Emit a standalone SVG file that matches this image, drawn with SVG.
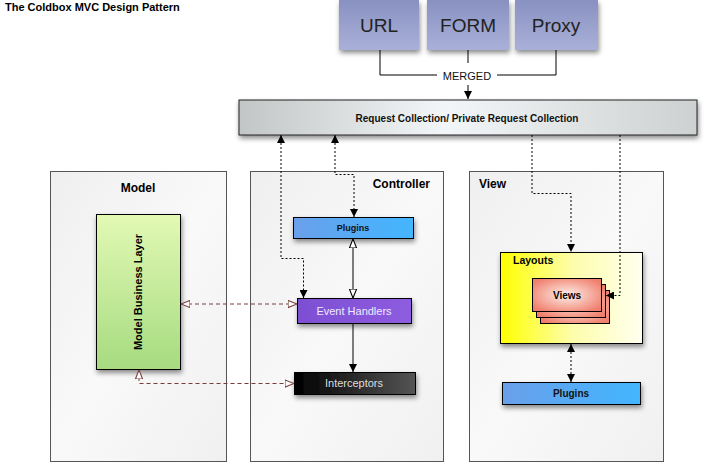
<svg xmlns="http://www.w3.org/2000/svg" width="707" height="467" viewBox="0 0 707 467">
<style>
text{font-family:"Liberation Sans",Arial,sans-serif}
.b{font-weight:bold}
.panel{fill:url(#gPanel);stroke:#555;stroke-width:1}
.top{fill:url(#gTop);filter:url(#sh)}
.toptxt{font-size:19px;fill:#222;text-anchor:middle}
.conn{fill:none;stroke:#000;stroke-width:1}
.dot{fill:none;stroke:#000;stroke-width:1;stroke-dasharray:2,2}
.dash{fill:none;stroke:#7a3a3a;stroke-width:1;stroke-dasharray:4,3}
.box{stroke:#000;stroke-width:1;filter:url(#sh)}
</style>
<defs>
<filter id="sh" x="-20%" y="-20%" width="140%" height="160%">
<feDropShadow dx="1" dy="3" stdDeviation="2.5" flood-color="#000" flood-opacity="0.45"/>
</filter>
<linearGradient id="gTop" x1="0" y1="0" x2="0" y2="1">
<stop offset="0" stop-color="#8991c2"/><stop offset="1" stop-color="#a9b0d8"/>
</linearGradient>
<linearGradient id="gPanel" x1="0" y1="0" x2="1" y2="1">
<stop offset="0" stop-color="#efefef"/><stop offset="0.5" stop-color="#f9f9f9"/><stop offset="1" stop-color="#f0f0f0"/>
</linearGradient>
<linearGradient id="gReq" x1="0" y1="0" x2="1" y2="0">
<stop offset="0" stop-color="#c2c6c6"/><stop offset="0.45" stop-color="#f2f6f8"/><stop offset="1" stop-color="#cdd1d1"/>
</linearGradient>
<linearGradient id="gGreen" x1="0" y1="0" x2="0" y2="1">
<stop offset="0" stop-color="#e2f9b4"/><stop offset="1" stop-color="#a6db80"/>
</linearGradient>
<linearGradient id="gBlue" x1="0" y1="0" x2="1" y2="0">
<stop offset="0" stop-color="#6a9fea"/><stop offset="1" stop-color="#42b6ff"/>
</linearGradient>
<linearGradient id="gPurple" x1="0" y1="0" x2="1" y2="0">
<stop offset="0" stop-color="#7d4fd2"/><stop offset="1" stop-color="#8e5ce0"/>
</linearGradient>
<linearGradient id="gBlack" x1="0" y1="0" x2="1" y2="0">
<stop offset="0" stop-color="#000"/><stop offset="1" stop-color="#555"/>
</linearGradient>
<linearGradient id="gYellow" x1="0" y1="0" x2="1" y2="0">
<stop offset="0" stop-color="#ffff00"/><stop offset="0.5" stop-color="#fdfdaa"/><stop offset="1" stop-color="#fffff0"/>
</linearGradient>
<radialGradient id="gPink" cx="0.5" cy="0.5" r="0.6">
<stop offset="0" stop-color="#fdf0ea"/><stop offset="1" stop-color="#f0806e"/>
</radialGradient>
<marker id="aF" viewBox="0 0 10 10" refX="10" refY="5" markerWidth="8" markerHeight="8" markerUnits="userSpaceOnUse" orient="auto-start-reverse">
<path d="M0,0 L10,5 L0,10 z" fill="#000"/>
</marker>
<marker id="aH" viewBox="0 0 10 10" refX="10" refY="5" markerWidth="9" markerHeight="9" markerUnits="userSpaceOnUse" orient="auto-start-reverse">
<path d="M0,1 L10,5 L0,9 z" fill="#fff" stroke="#000" stroke-width="1.2"/>
</marker>
<marker id="aB" viewBox="0 0 10 10" refX="10" refY="5" markerWidth="9" markerHeight="9" markerUnits="userSpaceOnUse" orient="auto-start-reverse">
<path d="M0,1 L10,5 L0,9 z" fill="#fff" stroke="#7a3a3a" stroke-width="1.2"/>
</marker>
</defs>

<text x="5" y="11" class="b" font-size="11" fill="#000">The Coldbox MVC Design Pattern</text>

<g id="url"><rect class="top" x="339" y="0" width="80" height="50"/><text class="toptxt" x="379" y="32">URL</text></g>
<g id="form"><rect class="top" x="427" y="0" width="82" height="50"/><text class="toptxt" x="468" y="32">FORM</text></g>
<g id="proxy"><rect class="top" x="515" y="0" width="83" height="50"/><text class="toptxt" x="556" y="32">Proxy</text></g>

<g id="request"><rect x="239" y="100" width="458" height="35" fill="url(#gReq)" stroke="#222" stroke-width="1" filter="url(#sh)"/>
<text x="467" y="122" class="b" font-size="10" fill="#111" text-anchor="middle">Request Collection/ Private Request Collection</text></g>

<g id="model"><rect class="panel" x="50.5" y="171.5" width="176" height="290"/>
<text x="138" y="192" class="b" font-size="12" text-anchor="middle">Model</text></g>
<g id="controller"><rect class="panel" x="250.5" y="171.5" width="193" height="290"/>
<text x="430" y="188" class="b" font-size="12" text-anchor="end">Controller</text></g>
<g id="view"><rect class="panel" x="469.5" y="171.5" width="194" height="290"/>
<text x="479" y="188" class="b" font-size="12">View</text></g>

<g id="mbl"><rect class="box" x="96.5" y="214.5" width="84" height="155" fill="url(#gGreen)"/>
<text transform="translate(142,292) rotate(-90)" class="b" font-size="11" text-anchor="middle">Model Business Layer</text></g>

<g id="cplugins"><rect class="box" x="293.5" y="217.5" width="120" height="21" fill="url(#gBlue)"/>
<text x="353" y="231" class="b" font-size="9" text-anchor="middle" fill="#111">Plugins</text></g>
<g id="eventhandlers"><rect class="box" x="297.5" y="298.5" width="114" height="25" fill="url(#gPurple)"/>
<text x="354" y="315" font-size="11" text-anchor="middle" fill="#f0eaff">Event Handlers</text></g>
<g id="interceptors"><rect class="box" x="294.5" y="372.5" width="121" height="22" fill="url(#gBlack)"/>
<text x="354" y="387" font-size="11" text-anchor="middle" fill="#ddd">Interceptors</text></g>

<g id="layouts"><rect class="box" x="500.5" y="252.5" width="142" height="91" fill="url(#gYellow)"/>
<text x="513" y="264" class="b" font-size="10.5">Layouts</text></g>
<g id="views">
<rect x="540.5" y="290.5" width="69" height="33" fill="url(#gPink)" stroke="#000"/>
<rect x="536.5" y="284.5" width="69" height="33" fill="url(#gPink)" stroke="#000"/>
<rect x="532.5" y="278.5" width="69" height="33" fill="url(#gPink)" stroke="#000"/>
<text x="567" y="299" class="b" font-size="10" text-anchor="middle">Views</text></g>
<g id="vplugins"><rect class="box" x="502.5" y="382.5" width="138" height="22" fill="url(#gBlue)"/>
<text x="571" y="397" class="b" font-size="10" text-anchor="middle" fill="#111">Plugins</text></g>

<g id="connectors">
<path class="conn" d="M380,50 V75 H437"/>
<path class="conn" d="M556,50 V75 H497"/>
<path class="conn" d="M468,50 V63"/>
<text x="467" y="80" font-size="11" text-anchor="middle" fill="#111">MERGED</text>
<path class="conn" d="M468,85 V99" marker-end="url(#aF)"/>
<path class="dot" d="M281,135 V258.5 H303.5 V298" marker-start="url(#aF)" marker-end="url(#aF)"/>
<path class="dot" d="M335,135 V174.5 H354 V217" marker-start="url(#aF)" marker-end="url(#aF)"/>
<path class="conn" d="M353,239 V298" marker-start="url(#aH)" marker-end="url(#aH)"/>
<path class="conn" d="M353,324 V372" marker-end="url(#aF)"/>
<path class="dash" d="M181,304 H297" marker-start="url(#aB)" marker-end="url(#aB)"/>
<path class="dash" d="M139,370 V383.5 H294" marker-start="url(#aB)" marker-end="url(#aB)"/>
<path class="dot" d="M532,135 V193.5 H571 V252" marker-end="url(#aF)"/>
<path class="dot" d="M620,135 V295.5 H606" marker-end="url(#aF)"/>
<path class="dot" d="M571,344 V382" marker-start="url(#aF)" marker-end="url(#aF)"/>
</g>
</svg>
